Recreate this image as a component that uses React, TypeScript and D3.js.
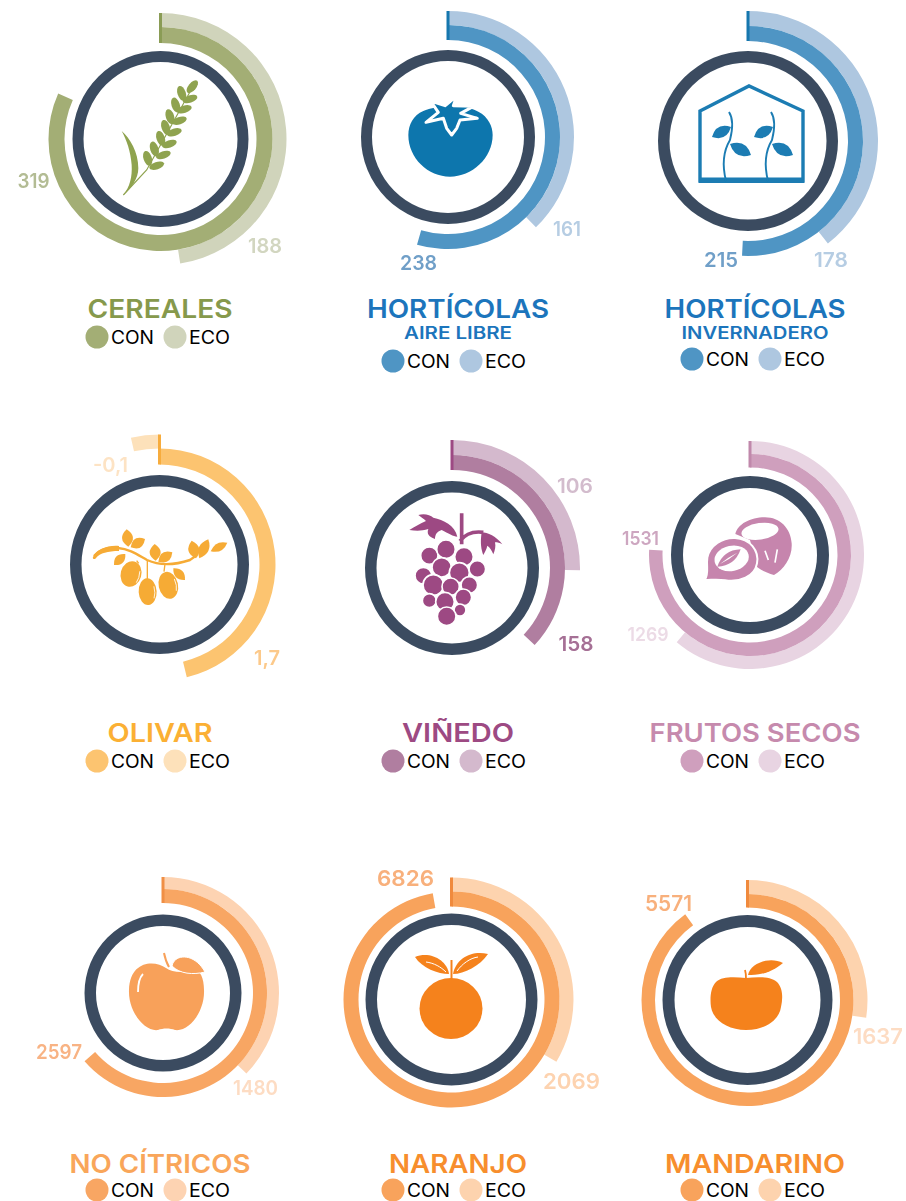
import React from "react";
import * as d3 from "d3";

// ---- data ----
const categories = ["CEREALES", "HORTÍCOLAS", "HORTÍCOLAS", "OLIVAR", "VIÑEDO", "FRUTOS SECOS", "NO CÍTRICOS", "NARANJO", "MANDARINO"];
const subtitles = ["", "AIRE LIBRE", "INVERNADERO", "", "", "", "", "", ""];
const conValues = [319, 238, 215, 1.7, 158, 1531, 2597, 6826, 5571];
const ecoValues = [188, 161, 178, -0.1, 106, 1269, 1480, 2069, 1637];
const conLabels = ["319", "238", "215", "1,7", "158", "1531", "2597", "6826", "5571"];
const ecoLabels = ["188", "161", "178", "-0,1", "106", "1269", "1480", "2069", "1637"];
// value that one full turn stands for, read per panel from the picture
const conFullTurn = [390.6, 437, 423, 3.678, 427.7, 2019, 4083, 7021, 6190];
const ecoFullTurn = [395.8, 427, 451, 2.835, 419.3, 2076.5, 3976, 6171, 5983];

// ---- layout ----
type L = { cx: number; cy: number; ro: number; ri: number; c0: number; c1: number; e1: number; conPos: [number, number]; ecoPos: [number, number]; conW: number; ecoW: number; fs: number; tx: number; ty: number; tw: number; sy?: number; sw?: number; legX: number; legY: number };
const layout: L[] = [
  { cx: 160.5, cy: 139, ro: 88, ri: 77, c0: 96, c1: 112, e1: 126, conPos: [33.5, 181], ecoPos: [265, 246], conW: 32, ecoW: 34, fs: 20, tx: 160, ty: 308, tw: 145, legX: 97, legY: 337 },
  { cx: 448, cy: 137, ro: 87, ri: 76, c0: 97, c1: 112, e1: 126, conPos: [418.5, 263], ecoPos: [567, 229], conW: 37, ecoW: 28, fs: 20, tx: 458, ty: 308, tw: 182, sy: 333, sw: 108, legX: 393, legY: 361 },
  { cx: 748, cy: 141, ro: 90, ri: 78.5, c0: 100, c1: 115, e1: 130, conPos: [721, 260], ecoPos: [831, 260], conW: 34, ecoW: 34, fs: 20, tx: 755, ty: 308, tw: 181, sy: 333, sw: 147, legX: 692, legY: 359 },
  { cx: 159.5, cy: 564.5, ro: 89.5, ri: 78, c0: 100, c1: 116, e1: 130, conPos: [267, 658], ecoPos: [110.5, 465], conW: 26, ecoW: 35, fs: 20, tx: 160, ty: 732, tw: 105, legX: 97, legY: 761 },
  { cx: 452, cy: 568, ro: 87, ri: 75.5, c0: 98, c1: 113, e1: 128, conPos: [576, 644], ecoPos: [575, 486], conW: 35, ecoW: 36, fs: 20, tx: 458, ty: 732, tw: 112, legX: 393, legY: 761 },
  { cx: 750, cy: 555, ro: 79, ri: 67, c0: 87.5, c1: 101, e1: 114, conPos: [640.5, 538], ecoPos: [648, 634], conW: 37, ecoW: 41, fs: 19, tx: 755, ty: 732, tw: 211, legX: 692, legY: 761 },
  { cx: 163, cy: 993, ro: 78.5, ri: 67, c0: 90, c1: 104, e1: 116, conPos: [59, 1052], ecoPos: [255.5, 1088], conW: 46, ecoW: 45, fs: 20, tx: 160, ty: 1163, tw: 181, legX: 97, legY: 1190 },
  { cx: 451.5, cy: 999.5, ro: 86, ri: 74.5, c0: 93, c1: 108, e1: 122, conPos: [405.5, 878], ecoPos: [571.5, 1081], conW: 57, ecoW: 57, fs: 22, tx: 458, ty: 1163, tw: 138, legX: 393, legY: 1190 },
  { cx: 747.5, cy: 1000, ro: 85, ri: 73, c0: 92.5, c1: 106, e1: 120, conPos: [668.5, 903], ecoPos: [878, 1036], conW: 47, ecoW: 50, fs: 21, tx: 755, ty: 1163, tw: 180, legX: 692, legY: 1190 },
];

const conColors = ["#a3ae75", "#4f95c4", "#4f95c4", "#fcc470", "#b07ea0", "#cf9fbd", "#f8a663", "#f8a35c", "#f8a35c"];
const ecoColors = ["#d0d4bb", "#aec7e0", "#aec7e0", "#fde1ba", "#d4b9cd", "#e8d4e2", "#fdd3b2", "#fdd3ae", "#fdd3ae"];
const startColors = ["#8a9c55", "#1577ae", "#1577ae", "#f7ac3c", "#9d4a83", "#c088ab", "#f08f45", "#f08a3c", "#f08a3c"];
const titleColors = ["#86994c", "#1c75bc", "#1c75bc", "#fbb034", "#9d4a83", "#c68aad", "#f9a65a", "#f78e2d", "#f78e2d"];
const conLabelColors = ["#b3bc94", "#6f9fc8", "#6f9fc8", "#fcc98a", "#a56f95", "#cda6c0", "#f8b384", "#f8b07c", "#f8b07c"];
const ecoLabelColors = ["#d2d6c0", "#b6cde3", "#b6cde3", "#fde3c4", "#d3bccd", "#ecdbe6", "#fddcc3", "#fdd3b0", "#fddcc3"];

const FONT = "Inter, 'Open Sans', sans-serif";
const DARK = "#3b4c60";

function leaf(x1: number, y1: number, x2: number, y2: number, w: number, skew = 0.5) {
  const dx = x2 - x1, dy = y2 - y1;
  const mx = x1 + dx * skew, my = y1 + dy * skew;
  const nx = -dy / Math.hypot(dx, dy), ny = dx / Math.hypot(dx, dy);
  return `M${x1} ${y1}Q${mx + nx * w} ${my + ny * w} ${x2} ${y2}Q${mx - nx * w} ${my - ny * w} ${x1} ${y1}Z`;
}

function Wheat() {
  const c = "#8fa34f";
  const left = [[98, 250], [118, 222], [137, 190], [152, 157], [165, 125], [182, 90], [200, 55]];
  const right = [[125, 272], [145, 240], [163, 207], [178, 172], [193, 137], [208, 103], [225, 72]];
  return (
    <g fill={c} transform="translate(115 75) scale(.3333)">
      <path d="M20 168C45 190 70 230 70 280C70 310 50 340 25 360C45 335 52 305 50 270C47 230 35 195 20 168Z" />
      <path d="M25 360L95 285L228 45" fill="none" stroke={c} strokeWidth={3.5} />
      {left.map(([x, y], i) => (
        <ellipse key={i} cx={x} cy={y} rx={23} ry={12.5} transform={`rotate(72 ${x} ${y})`} />
      ))}
      <ellipse cx={232} cy={35} rx={23} ry={11.5} transform="rotate(-50 232 35)" />
      {right.map(([x, y], i) => (
        <ellipse key={i} cx={x} cy={y} rx={23} ry={11} transform={`rotate(-18 ${x} ${y})`} />
      ))}
    </g>
  );
}

function Tomato() {
  const c = "#0f76ad";
  return (
    <g transform="translate(400 85) scale(.3333)">
      <path fill={c} d="M70 78C40 90 25 120 25 150C25 220 85 275 150 275C215 275 278 220 278 150C278 125 265 95 235 80C200 60 110 60 70 78Z" />
      <path fill={c} stroke="#fff" strokeWidth={9} strokeLinejoin="round" d="M92 48L135 62C145 55 155 45 170 33L160 62L220 64L182 85L232 100L180 105L170 130L155 150L140 130L130 100L78 112L115 82Z" />
    </g>
  );
}

function Greenhouse() {
  const c = "#1a7cb3";
  const plant = (ox: number) => (
    <g key={ox}>
      <path d={`M${726 + ox} 181C${722 + ox} 165 ${724 + ox} 150 ${730 + ox} 140C${733 + ox} 128 ${733 + ox} 118 ${729 + ox} 112`} fill="none" stroke={c} strokeWidth={1.9} />
      <path d={leaf(712 + ox, 137, 731 + ox, 127, 11)} fill={c} />
      <path d={leaf(730 + ox, 144, 751 + ox, 155, 12)} fill={c} />
    </g>
  );
  return (
    <g>
      <path d="M700 111L749 86L803 111V181H700Z" fill="none" stroke={c} strokeWidth={3.4} strokeLinejoin="miter" />
      <path d="M699 177.5H804V183H699Z" fill={c} />
      {plant(0)}
      {plant(42)}
    </g>
  );
}

function Olive() {
  const c = "#f6ab35";
  const P = (x: number, y: number) => [90 + x / 3, 500 + y / 3];
  const lf = (a: number, b: number, e: number, f: number, w: number) => {
    const [x1, y1] = P(a, b), [x2, y2] = P(e, f);
    return <path key={`${a}${b}`} d={leaf(x1, y1, x2, y2, w)} fill={c} />;
  };
  const olives: [number, number, number, number, number][] = [[123, 222, 31, 39, 15], [173, 275, 27, 40, -3], [235, 256, 29, 41, -12]];
  return (
    <g>
      <path d="M94 556C99 550 108 547 118 548C130 549 138 555 147 560C158 565 172 566 190 560L197 555" fill="none" stroke={c} strokeWidth={2.4} />
      <path d="M93 557C97 549 108 545 119 546L119 551C108 551 100 553 96 558C95 560 92 559 93 557Z" fill={c} />
      {lf(115, 140, 110, 88, 11)}{lf(122, 142, 165, 117, 10)}{lf(72, 195, 106, 162, 9)}
      {lf(197, 182, 194, 132, 11)}{lf(205, 185, 247, 157, 10)}{lf(250, 205, 285, 240, 9)}
      {lf(318, 175, 305, 122, 11)}{lf(328, 175, 355, 118, 10)}{lf(362, 154, 412, 128, 8)}
      <path d="M140 182L146 190M172 182V240M225 192L222 215" fill="none" stroke={c} strokeWidth={4} transform="translate(90 500) scale(.3333)" />
      {olives.map(([x, y, rx, ry, r], i) => {
        const [X, Y] = P(x, y);
        return (
          <g key={i} transform={`rotate(${r} ${X} ${Y})`}>
            <ellipse cx={X} cy={Y} rx={rx / 3} ry={ry / 3} fill={c} />
            <path d={`M${X + rx / 3 - 2.5} ${Y - 5}Q${X + rx / 3 - 1} ${Y + 2} ${X + rx / 3 - 3} ${Y + 7}`} fill="none" stroke="#fff" strokeWidth={0.8} />
          </g>
        );
      })}
    </g>
  );
}

function Grape() {
  const c = "#9d4a83";
  const circles = [[88, 152, 26], [138, 133, 28], [192, 155, 28], [70, 212, 25], [232, 192, 25], [125, 187, 29], [178, 203, 30], [100, 240, 31], [152, 245, 26], [208, 240, 25], [88, 287, 21], [135, 290, 28], [190, 277, 25], [180, 315, 18], [140, 334, 28]];
  return (
    <g transform="translate(400 505) scale(.3333)">
      <path d="M185 25V118M180 108C195 88 220 78 250 82" fill="none" stroke={c} strokeWidth={11} />
      <path fill={c} d="M172 95C165 60 130 45 100 38C90 28 70 25 55 30C65 38 72 42 78 48C60 55 45 65 28 75C50 78 65 78 85 72C80 85 85 95 105 102C105 90 110 80 125 75C145 85 160 95 172 95Z" />
      <path fill={c} d="M245 82C262 82 290 95 307 118C295 112 290 112 285 112C288 125 285 135 280 148C275 135 270 128 262 122C260 132 255 140 250 150C244 135 240 115 245 82Z" />
      {circles.map(([x, y, r], i) => (
        <circle key={i} cx={x} cy={y} r={r} fill={c} stroke="#fff" strokeWidth={5} />
      ))}
    </g>
  );
}

function Hazelnut() {
  const c = "#c685ad";
  return (
    <g transform="translate(700 510) scale(.3333)">
      <path fill={c} d="M106 72C113 43 150 22 195 22C240 22 272 55 275 100C278 140 252 178 222 195C205 190 185 182 170 170L150 90Z" />
      <ellipse cx={180} cy={64} rx={56} ry={25} transform="rotate(-8 180 64)" fill="#fff" />
      <path d="M195 122L205 150M232 118L225 158" stroke="#fff" strokeWidth={5} fill="none" />
      <path fill={c} stroke="#fff" strokeWidth={6} d="M14 210C28 192 18 170 22 143C29 106 68 82 105 84C150 86 178 122 171 160C164 200 118 218 75 211C52 207 36 210 14 210Z" />
      <ellipse cx={95} cy={145} rx={52} ry={38} transform="rotate(-12 95 145)" fill="#fff" />
      <path d={leaf(52, 170, 122, 118, 30)} fill={c} />
      <path d={leaf(60, 162, 112, 128, 4)} fill="#fff" />
    </g>
  );
}

function Apple() {
  const c = "#f8a15a";
  return (
    <g>
      <path fill={c} d="M166 968C155 960 130 960 129 990C128 1012 145 1032 158 1030C163 1028 170 1028 175 1030C190 1032 205 1010 204 990C204 978 200 970 195 970C185 973 172 973 166 968Z" />
      <path d="M143 974C139 978 138 984 138 992" fill="none" stroke="#fff" strokeWidth={1.8} />
      <path d="M164 953C165 958 166 962 169 967" fill="none" stroke={c} strokeWidth={2} />
      <path d="M172 966C174 954 194 952 205 972C193 975 180 974 172 966Z" fill={c} stroke="#fff" strokeWidth={1} />
    </g>
  );
}

function Orange() {
  const c = "#f5821f";
  return (
    <g>
      <ellipse cx={451} cy={1008.5} rx={31.5} ry={30.5} fill={c} />
      <path d="M451.5 960V979" stroke={c} strokeWidth={2} fill="none" />
      <path fill={c} d="M449 974C438 974 422 968 415 957C430 951 447 960 449 974Z" />
      <path fill={c} d="M453 974C464 974 480 966 488 954C472 950 456 958 453 974Z" />
      <path d="M426 962C434 963 441 967 446 972M478 957C470 958 462 964 457 971" fill="none" stroke="#fff" strokeWidth={1} />
    </g>
  );
}

function Mandarin() {
  const c = "#f5821f";
  return (
    <g>
      <path fill={c} d="M746 978C735 977 722 976 716 982C710 988 710 1000 711 1007C713 1020 728 1030 746 1030C764 1030 779 1021 781 1007C783 998 783 988 777 982C770 976 757 977 746 978Z" />
      <path d="M745 970C746 973 746 976 746 979" stroke={c} strokeWidth={1.8} fill="none" />
      <path fill={c} d="M748 975C750 963 770 956 783 963C775 970 762 976 748 975Z" />
    </g>
  );
}

const icons = [Wheat, Tomato, Greenhouse, Olive, Grape, Hazelnut, Apple, Orange, Mandarin];

function Panel({ i }: { i: number }) {
  const L = layout[i];
  const conScale = d3.scaleLinear().domain([0, conFullTurn[i]]).range([0, 2 * Math.PI]);
  const ecoScale = d3.scaleLinear().domain([0, ecoFullTurn[i]]).range([0, 2 * Math.PI]);
  const arc = d3.arc<{ a: number; r0: number; r1: number }>()
    .startAngle(0)
    .endAngle((d) => d.a)
    .innerRadius((d) => d.r0)
    .outerRadius((d) => d.r1);
  const ring = d3.arc()({ startAngle: 0, endAngle: 2 * Math.PI, innerRadius: L.ri, outerRadius: L.ro } as any) as string;
  const Icon = icons[i];
  return (
    <g>
      <g filter="url(#soft)">
        <g transform={`translate(${L.cx},${L.cy})`}>
          <path d={arc({ a: ecoScale(ecoValues[i]), r0: L.c1, r1: L.e1 }) as string} fill={ecoColors[i]} />
          <path d={arc({ a: conScale(conValues[i]), r0: L.c0, r1: L.c1 }) as string} fill={conColors[i]} />
          <line x1={0} x2={0} y1={-L.c0} y2={-L.e1} stroke={startColors[i]} strokeWidth={3} />
          <path d={ring} fill={DARK} />
        </g>
        <Icon />
      </g>
      <g filter="url(#soft2)" fontFamily={FONT} fontWeight={600} fontSize={L.fs} textAnchor="middle" dominantBaseline="central">
        <text x={L.conPos[0]} y={L.conPos[1]} fill={conLabelColors[i]} textLength={L.conW} lengthAdjust="spacingAndGlyphs">{conLabels[i]}</text>
        <text x={L.ecoPos[0]} y={L.ecoPos[1]} fill={ecoLabelColors[i]} textLength={L.ecoW} lengthAdjust="spacingAndGlyphs">{ecoLabels[i]}</text>
      </g>
      <text x={L.tx} y={L.ty} fill={titleColors[i]} fontFamily={FONT} fontWeight={600} fontSize={26} textAnchor="middle" dominantBaseline="central" textLength={L.tw} lengthAdjust="spacingAndGlyphs">{categories[i]}</text>
      {subtitles[i] && (
        <text x={L.tx} y={L.sy} fill={titleColors[i]} fontFamily={FONT} fontWeight={600} fontSize={17} textAnchor="middle" dominantBaseline="central" textLength={L.sw} lengthAdjust="spacingAndGlyphs">{subtitles[i]}</text>
      )}
      <g fontFamily={FONT} fontWeight={400} fontSize={18} dominantBaseline="central" fill="#000">
        <circle cx={L.legX} cy={L.legY} r={11.5} fill={conColors[i]} />
        <text x={L.legX + 14} y={L.legY} textLength={43} lengthAdjust="spacingAndGlyphs">CON</text>
        <circle cx={L.legX + 78} cy={L.legY} r={11.5} fill={ecoColors[i]} />
        <text x={L.legX + 92} y={L.legY} textLength={41} lengthAdjust="spacingAndGlyphs">ECO</text>
      </g>
    </g>
  );
}

export default function App() {
  return (
    <svg width={906} height={1201} viewBox="0 0 906 1201" style={{ position: "absolute", left: 0, top: 0, display: "block", background: "#fff" }}>
      <defs>
        <filter id="soft" x="-5%" y="-5%" width="110%" height="110%"><feGaussianBlur stdDeviation={0.45} /></filter>
        <filter id="soft2" x="-10%" y="-10%" width="120%" height="120%"><feGaussianBlur stdDeviation={0.4} /></filter>
      </defs>
      {categories.map((_, i) => <Panel key={i} i={i} />)}
    </svg>
  );
}
